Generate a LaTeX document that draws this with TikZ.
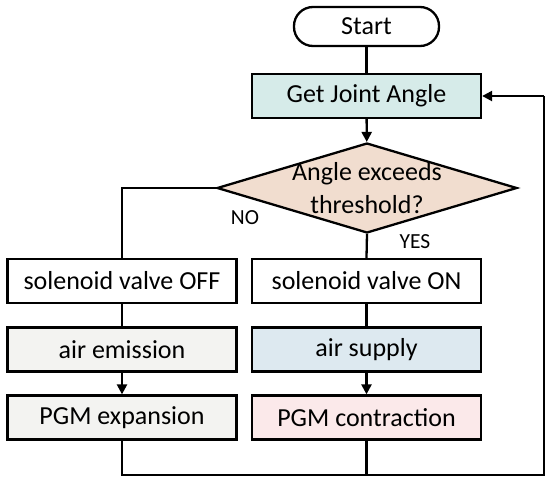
\documentclass[tikz,border=0pt]{standalone}
\usepackage{fontspec}
\setmainfont{Carlito}
\usetikzlibrary{shapes.geometric,arrows.meta}
\definecolor{cget}{HTML}{D6EBE9}
\definecolor{cdia}{HTML}{F1DDCF}
\definecolor{cgray}{HTML}{F3F3F1}
\definecolor{cblue}{HTML}{DDE9F0}
\definecolor{cpink}{HTML}{FBE9EA}
\tikzset{
  base/.style={draw=black, line width=2.3pt, inner sep=0pt, font=\fontsize{26}{33}\selectfont},
  box/.style={base, rectangle, minimum width=229pt, minimum height=44pt},
  term/.style={base, rectangle, rounded corners=19pt, minimum width=145pt, minimum height=39pt},
  dia/.style={base, diamond, aspect=3.33, minimum width=300pt, minimum height=90pt},
  line/.style={line width=2.3pt},
  arr/.style={line width=2.3pt, -{Triangle[length=10pt,width=10pt]}},
  lbl/.style={font=\fontsize{21.5}{24}\selectfont, inner sep=0pt}
}
\begin{document}
\begin{tikzpicture}[x=1pt,y=-1pt]
\useasboundingbox (0,0) rectangle (550,483);
\node[term] (start) at (366.5,26.5) {Start};
\node[box, fill=cget] (get) at (366.5,96) {Get Joint Angle};
\node[dia, fill=cdia] (dec) at (367,188) {\parbox[c][36pt][c]{170pt}{\centering Angle exceeds\\threshold?}};
\node[box] (off) at (122,281) {solenoid valve OFF};
\node[box] (on) at (366.5,281) {solenoid valve ON};
\node[box, fill=cgray] (emi) at (122,349.5) {air emission};
\node[box, fill=cblue] (sup) at (366.5,349.5) {air supply};
\node[box, fill=cgray] (exp) at (122,417.5) {PGM expansion};
\node[box, fill=cpink] (con) at (366.5,417.5) {PGM contraction};
\node[lbl] (no) at (245,218) {NO};
\node[lbl] (yes) at (415,242) {YES};
\coordinate (bl) at (122,475);
\coordinate (bm) at (366.5,475);
\coordinate (br) at (544,475);
\coordinate (tr) at (544,96);
\draw[line] (start) -- (get);
\draw[arr] (get) -- (dec);
\draw[line] (dec.west) -| (off.north);
\draw[line] (dec.south) -- (on.north);
\draw[line] (off) -- (emi);
\draw[line] (on) -- (sup);
\draw[arr] (emi) -- (exp);
\draw[arr] (sup) -- (con);
\draw[line] (exp.south) -- (bl) -- (br) -- (tr);
\draw[line] (con.south) -- (bm);
\draw[arr] (tr) -- (get.east);
\end{tikzpicture}
\end{document}
